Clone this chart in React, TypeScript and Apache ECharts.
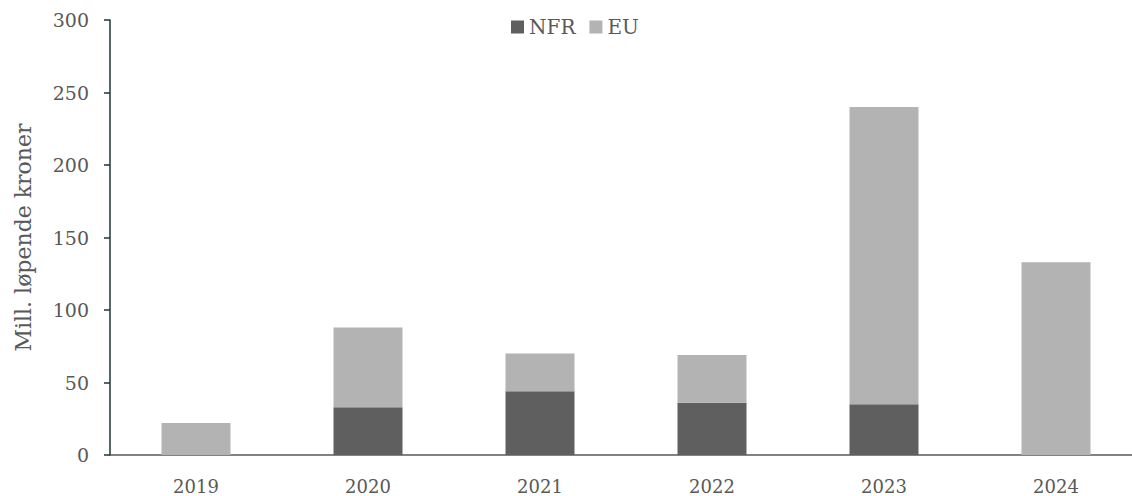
import React, { useEffect, useRef } from "react";
import * as echarts from "echarts";

const years = ["2019", "2020", "2021", "2022", "2023", "2024"];
const nfr = [0, 33, 44, 36, 35, 0];
const eu = [22, 55, 26, 33, 205, 133];
const yTicks = { min: 0, max: 300, interval: 50 };

const FONT = "DejaVu Serif";
const TEXT = "#595959";

export default function App() {
  const ref = useRef<HTMLDivElement>(null);
  useEffect(() => {
    const chart = echarts.init(ref.current!, null, { renderer: "svg" });
    chart.setOption({
      animation: false,
      textStyle: { fontFamily: FONT, color: TEXT },
      legend: {
        top: 12,
        left: 506,
        itemWidth: 13,
        itemHeight: 13,
        itemGap: 14,
        icon: "rect",
        textStyle: { fontFamily: FONT, color: TEXT, fontSize: 20 },
        data: ["NFR", "EU"],
      },
      grid: { left: 110, right: 0, top: 20, bottom: 41 },
      xAxis: {
        type: "category",
        data: years,
        axisLine: { lineStyle: { color: "#595959", width: 1.5 } },
        axisTick: { show: false },
        axisLabel: { fontFamily: FONT, color: TEXT, fontSize: 18, margin: 22 },
      },
      yAxis: {
        type: "value",
        min: yTicks.min,
        max: yTicks.max,
        interval: yTicks.interval,
        name: "Mill. løpende kroner",
        nameLocation: "middle",
        nameGap: 76,
        nameTextStyle: { fontFamily: FONT, color: TEXT, fontSize: 22 },
        axisLine: { show: true, lineStyle: { color: "#1f3535", width: 1.5 } },
        axisTick: { show: true, length: 6, lineStyle: { color: "#1f3535", width: 1.5 } },
        splitLine: { show: false },
        axisLabel: { fontFamily: FONT, color: TEXT, fontSize: 19, margin: 21 },
      },
      series: [
        {
          name: "NFR",
          type: "bar",
          stack: "total",
          barWidth: 69,
          itemStyle: { color: "#5f5f5f" },
          data: nfr,
        },
        {
          name: "EU",
          type: "bar",
          stack: "total",
          barWidth: 69,
          itemStyle: { color: "#b3b3b3" },
          data: eu,
        },
      ],
    });
    return () => chart.dispose();
  }, []);
  return (
    <div
      style={{
        position: "absolute",
        left: 0,
        top: 0,
        width: 1132,
        height: 496,
        overflow: "hidden",
      }}
    >
      <div ref={ref} style={{ width: 1142, height: 496 }} />
    </div>
  );
}
